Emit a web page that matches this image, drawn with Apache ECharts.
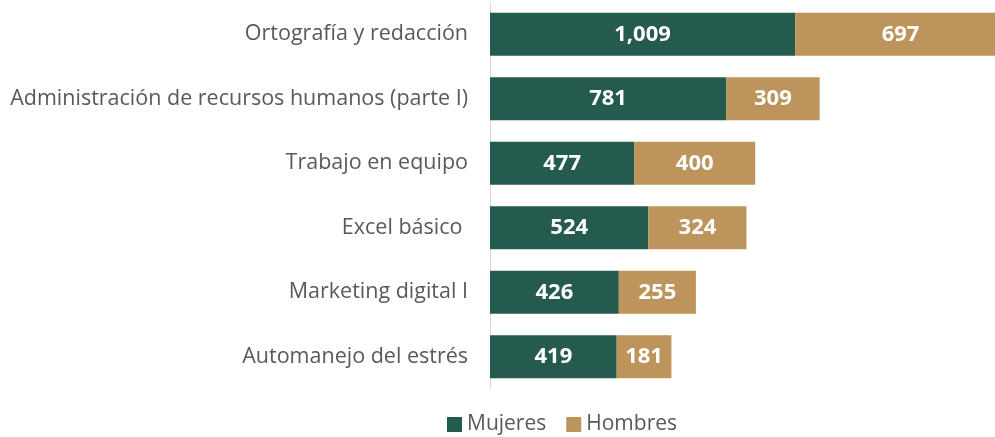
<!DOCTYPE html>
<html><head><meta charset="utf-8">
<script src="https://cdn.jsdelivr.net/npm/echarts@6/dist/echarts.min.js"></script>
<style>html,body{margin:0;padding:0;background:#fff}#c{width:995px;height:437px}</style>
</head><body><div id="c"></div>
<script>
const categories = ["Ortografía y redacción","Administración de recursos humanos (parte I)","Trabajo en equipo","Excel básico ","Marketing digital I","Automanejo del estrés"];
const mujeres = [1009, 781, 477, 524, 426, 419];
const hombres = [697, 309, 400, 324, 255, 181];
const seriesNames = ["Mujeres","Hombres"];

const FONT = "Open Sans";
const chart = echarts.init(document.getElementById('c'), null, {renderer:'canvas'});
const lbl = {show:true, position:'inside', color:'#fff', fontFamily:FONT, fontWeight:'bold', fontSize:22,
  formatter: p => p.value.toLocaleString('en-US')};
chart.setOption({
  animation:false,
  grid:{left:490, top:2, right:0, bottom:48, containLabel:false},
  xAxis:{type:'value', min:0, max:1670, show:false},
  yAxis:{type:'category', inverse:true, data:categories,
    axisLine:{show:true, lineStyle:{color:'#d9d9d9', width:1}},
    axisTick:{show:false},
    axisLabel:{color:'#595959', fontFamily:FONT, fontSize:21.5, margin:22}},
  legend:{top:409, left:442, itemWidth:15, itemHeight:15, itemGap:20, icon:'rect',
    textStyle:{color:'#595959', fontFamily:FONT, fontSize:21}},
  series:[
    {name:seriesNames[0], type:'bar', stack:'t', data:mujeres, barWidth:43, clip:false, itemStyle:{color:'#245B4E'}, label:lbl},
    {name:seriesNames[1], type:'bar', stack:'t', data:hombres, barWidth:43, clip:false, itemStyle:{color:'#BD955C'}, label:lbl}
  ]
});
</script></body></html>
